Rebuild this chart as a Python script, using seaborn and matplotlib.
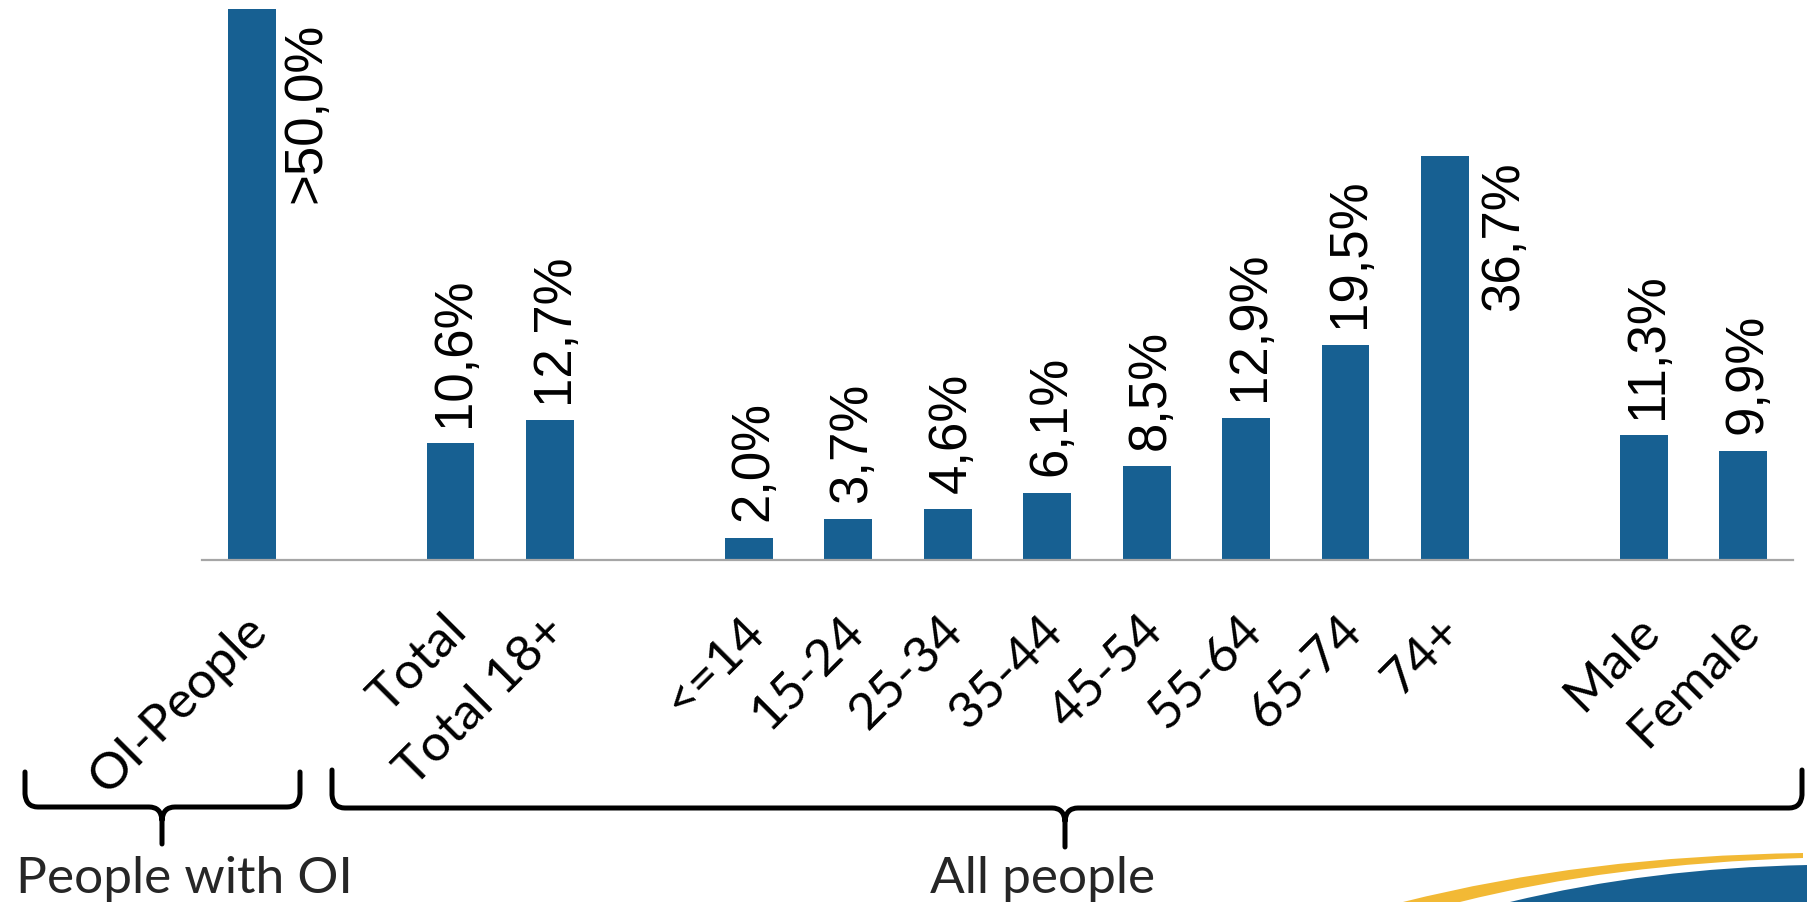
import numpy as np
import pandas as pd
import matplotlib
matplotlib.use("Agg")
import matplotlib.pyplot as plt
from matplotlib.path import Path
from matplotlib.patches import PathPatch
from matplotlib.transforms import ScaledTranslation
import seaborn as sns

# ---- data -------------------------------------------------------------
categories = ["OI-People", "Total", "Total 18+", "<=14", "15-24", "25-34",
              "35-44", "45-54", "55-64", "65-74", "74+", "Male", "Female"]
values = [50.0, 10.6, 12.7, 2.0, 3.7, 4.6, 6.1, 8.5, 12.9, 19.5, 36.7, 11.3, 9.9]
value_labels = [">50,0%", "10,6%", "12,7%", "2,0%", "3,7%", "4,6%", "6,1%",
                "8,5%", "12,9%", "19,5%", "36,7%", "11,3%", "9,9%"]
# slot order on the axis, blank slots separate the groups
slot_order = ["OI-People", " ", "Total", "Total 18+", "  ", "<=14", "15-24",
              "25-34", "35-44", "45-54", "55-64", "65-74", "74+", "   ",
              "Male", "Female"]
group_names = ["People with OI", "All people"]

BAR = "#176092"
W, H = 1808, 902

sns.set_theme(style="white")
plt.rcParams["font.family"] = ["Lato", "DejaVu Sans"]

fig = plt.figure(figsize=(W / 100, H / 100), dpi=100)
ax = fig.add_axes([202 / W, (H - 560) / H, (1793 - 202) / W, 560 / H])

df = pd.DataFrame({"group": categories, "share": values})
sns.barplot(data=df, x="group", y="share", order=slot_order, color=BAR,
            saturation=1, width=0.48, linewidth=0, ax=ax)

ax.set_xlim(-0.5, len(slot_order) - 0.5)
ax.set_ylim(0, 50.82)
ax.set_xlabel("")
ax.set_ylabel("")
ax.set_yticks([])
for side in ("left", "right", "top"):
    ax.spines[side].set_visible(False)
ax.spines["bottom"].set_color("#a6a6a6")
ax.spines["bottom"].set_linewidth(1.6)
ax.tick_params(axis="x", length=0, pad=34)

ax.set_xticks(range(len(slot_order)))
ax.set_xticklabels(slot_order, rotation=45, ha="right", va="top",
                   rotation_mode="anchor", fontsize=37, color="black",
                   family=["Lato", "DejaVu Sans"])
shift = ScaledTranslation(-8 / 100, 0, fig.dpi_scale_trans)
for lab in ax.get_xticklabels():
    lab.set_transform(lab.get_transform() + shift)

# ---- value labels -----------------------------------------------------
label_font = dict(fontsize=38, family=["Liberation Sans", "DejaVu Sans"],
                  color="black")
beside = {"OI-People": (6, -14), "74+": (10, -6)}
for cat, v, txt in zip(categories, values, value_labels):
    i = slot_order.index(cat)
    if cat in beside:
        dx, dy = beside[cat]
        ax.annotate(txt, (i + 0.24, v), xytext=(dx * 0.72, dy * 0.72),
                    textcoords="offset points", rotation=90,
                    ha="left", va="top", **label_font)
    else:
        ax.annotate(txt, (i, v), xytext=(3, 12), textcoords="offset points",
                    rotation=90, ha="center", va="bottom", **label_font)


# ---- group braces -----------------------------------------------------
def fx(x):
    return x / W


def fy(y):
    return (H - y) / H


def brace(x0, x1, xc, ytop, ybar, ytip, r=13):
    pts = [(x0, ytop), (x0, ybar - r), (x0 + 1, ybar), (x0 + r, ybar),
           (xc - r, ybar), (xc - 1, ybar), (xc, ybar + r), (xc, ytip),
           (xc, ybar + r), (xc + 1, ybar), (xc + r, ybar),
           (x1 - r, ybar), (x1 - 1, ybar), (x1, ybar - r), (x1, ytop)]
    codes = [Path.MOVETO, Path.LINETO, Path.CURVE3, Path.CURVE3,
             Path.LINETO, Path.CURVE3, Path.CURVE3, Path.LINETO,
             Path.MOVETO, Path.CURVE3, Path.CURVE3,
             Path.LINETO, Path.CURVE3, Path.CURVE3, Path.LINETO]
    verts = [(fx(a), fy(b)) for a, b in pts]
    fig.patches.append(PathPatch(Path(verts, codes), fill=False,
                                 edgecolor="black", lw=3.6,
                                 capstyle="round", joinstyle="round",
                                 transform=fig.transFigure))


brace(25, 300, 162, 772, 807, 844)
brace(332, 1802, 1065, 770, 808, 847)

fig.text(fx(16), fy(893), group_names[0], fontsize=37, ha="left",
         va="baseline", family=["Lato", "DejaVu Sans"])
fig.text(fx(1043), fy(893), group_names[1], fontsize=37, ha="center",
         va="baseline", family=["Lato", "DejaVu Sans"])

# ---- corner swoosh ----------------------------------------------------
yellow = [(1403, 902), (1585, 856), (1803, 853), (1803, 858),
          (1610, 864), (1460, 902), (1403, 902)]
ycodes = [Path.MOVETO, Path.CURVE3, Path.CURVE3, Path.LINETO,
          Path.CURVE3, Path.CURVE3, Path.CLOSEPOLY]
fig.patches.append(PathPatch(Path([(fx(a), fy(b)) for a, b in yellow], ycodes),
                             facecolor="#f2b935", edgecolor="none",
                             transform=fig.transFigure))
blue = [(1510, 902), (1650, 868), (1808, 865), (1808, 902), (1510, 902)]
bcodes = [Path.MOVETO, Path.CURVE3, Path.CURVE3, Path.LINETO, Path.CLOSEPOLY]
fig.patches.append(PathPatch(Path([(fx(a), fy(b)) for a, b in blue], bcodes),
                             facecolor=BAR, edgecolor="none",
                             transform=fig.transFigure))

fig.savefig("out.png", dpi=100, facecolor="white")
